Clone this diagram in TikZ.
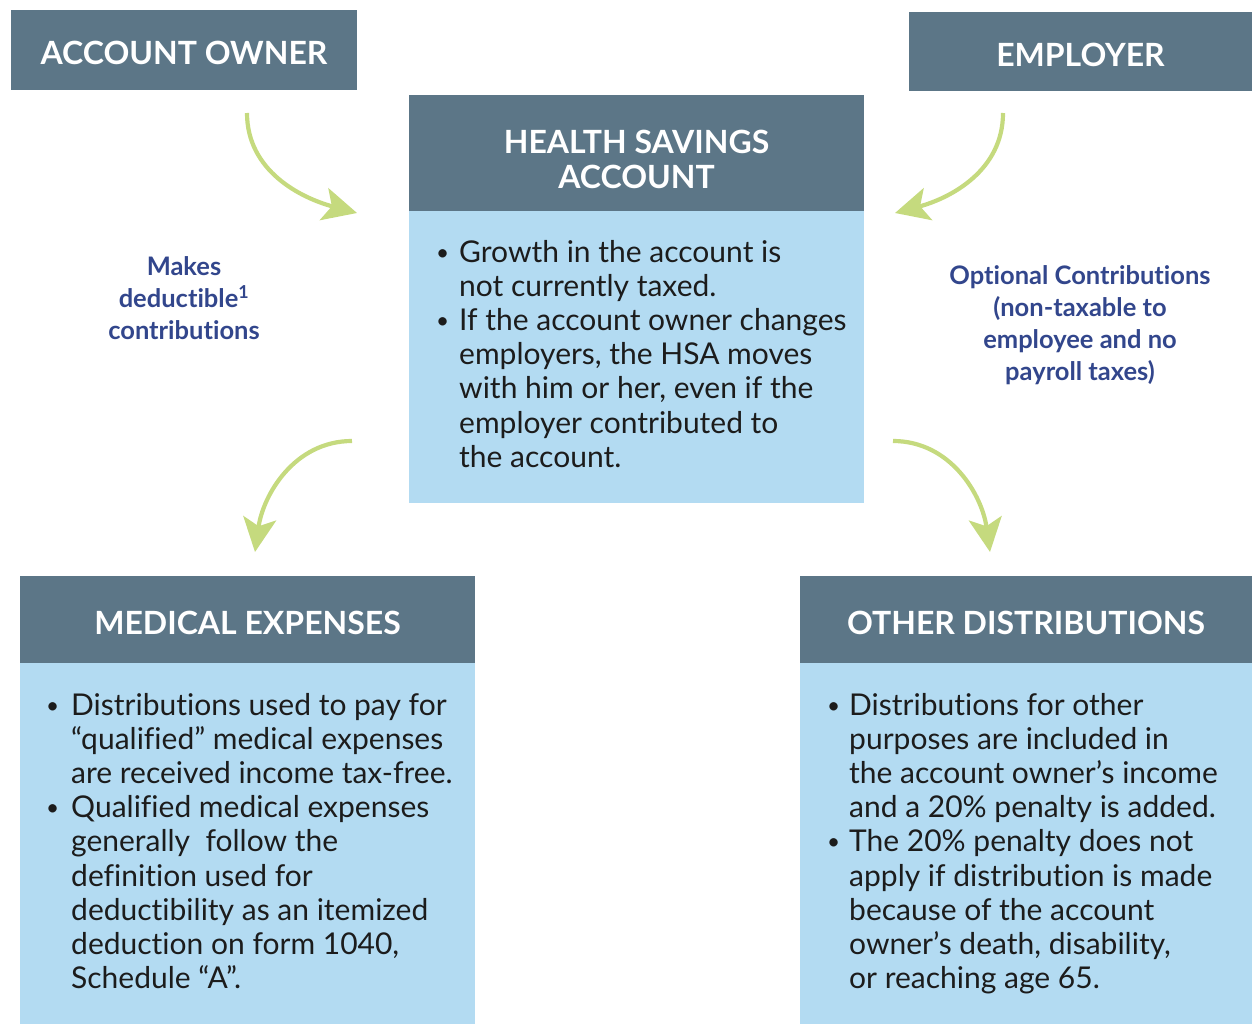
\documentclass[tikz,border=0pt]{standalone}
\usepackage{fontspec}
\setmainfont{Lato}[Ligatures={TeX,CommonOff}]
\usepackage{tikz}
\usetikzlibrary{arrows.meta, positioning}

\definecolor{slate}{RGB}{92,118,135}
\definecolor{skyfill}{RGB}{179,219,242}
\definecolor{leafgreen}{RGB}{197,218,126}
\definecolor{navytext}{RGB}{50,70,140}
\definecolor{inktext}{RGB}{28,28,28}

% small bullet with a fixed hanging width
\newcommand{\bitem}[1]{\makebox[#1][l]{\raisebox{2pt}{\scalebox{0.75}{\textbullet}}}}
% lower a title line without changing its box
\newcommand{\dropcap}[2][3pt]{\raisebox{-#1}[\height][\depth]{#2}}

\begin{document}
\begin{tikzpicture}[
    x=1pt, y=1pt,
    % Dark title bars
    titlebar/.style={draw=none, fill=slate, text=white, inner sep=0pt,
                     font=\fontsize{32}{35}\selectfont\bfseries, align=center},
    % Light blue text panels
    panel/.style={draw=none, fill=skyfill, inner sep=0pt},
    bodytext/.style={inner sep=0pt, anchor=base west, text=inktext,
                     font=\fontsize{30}{34.2}\selectfont},
    sidenote/.style={inner sep=0pt, text=navytext, align=center,
                     font=\fontsize{25.5}{32}\selectfont\bfseries},
    % Green curved arrow
    flow/.style={leafgreen, line width=4.2pt,
                 -{Stealth[length=34pt, width=33pt, inset=8pt]}}
]
\useasboundingbox (0,0) rectangle (1252,-1024);

% === TOP ROW ===
\node [titlebar, minimum width=346, minimum height=80] (owner) at (184,-50) {\dropcap{ACCOUNT OWNER}};
\node [titlebar, minimum width=343, minimum height=79] (employer) at (1080.5,-51.5) {\dropcap{EMPLOYER}};

% Health savings account in the middle
\node [titlebar, minimum width=455, minimum height=116] (hsahead) at (636.5,-153)
    {\dropcap[6pt]{HEALTH SAVINGS}\\\dropcap[6pt]{ACCOUNT}};
\node [panel, minimum width=455, minimum height=292, below=0pt of hsahead] (hsabody) {};
\node [bodytext] (hsatext) at (436,-262) {\begin{tabular}[t]{@{}l@{}l@{}}
\bitem{23pt} & Growth in the account is\\
 & not currently taxed.\\
\bitem{23pt} & If the account owner changes\\
 & employers, the HSA moves\\
 & with him or her, even if the\\
 & employer contributed to\\
 & the account.
\end{tabular}};

% Side notes
\node [sidenote] (ownernote) at (184,-298) {Makes\\deductible\textsuperscript{1}\\contributions};
\node [sidenote] (employernote) at (1080,-325) {Optional Contributions\\(non-taxable to\\employee and no\\payroll taxes)};

% === BOTTOM ROW ===
\node [titlebar, minimum width=455, minimum height=87] (medhead) at (247.5,-619.5) {\dropcap{MEDICAL EXPENSES}};
\node [panel, minimum width=455, minimum height=361, below=0pt of medhead] (medbody) {};
\node [bodytext] (medtext) at (46,-715) {\begin{tabular}[t]{@{}l@{}l@{}}
\bitem{25pt} & Distributions used to pay for\\
 & ``qualified'' medical expenses\\
 & are received income tax-free.\\
\bitem{25pt} & Qualified medical expenses\\
 & generally\ \ follow the\\
 & definition used for\\
 & deductibility as an itemized\\
 & deduction on form 1040,\\
 & Schedule ``A''.
\end{tabular}};

\node [titlebar, minimum width=452, minimum height=87] (otherhead) at (1026,-619.5) {\dropcap{OTHER DISTRIBUTIONS}};
\node [panel, minimum width=452, minimum height=361, below=0pt of otherhead] (otherbody) {};
\node [bodytext] (othertext) at (827,-715) {\begin{tabular}[t]{@{}l@{}l@{}}
\bitem{22pt} & Distributions for other\\
 & purposes are included in\\
 & the account owner’s income\\
 & and a 20\% penalty is added.\\
\bitem{22pt} & The 20\% penalty does not\\
 & apply if distribution is made\\
 & because of the account\\
 & owner’s death, disability,\\
 & or reaching age 65.
\end{tabular}};

% === ARROWS ===
\coordinate (ownerout) at (247,-113);
\coordinate (hsainleft) at (357,-213);
\coordinate (employerout) at (1003,-113);
\coordinate (hsainright) at (895,-213);
\coordinate (hsaoutleft) at (352,-441);
\coordinate (medin) at (255,-552);
\coordinate (hsaoutright) at (893,-441);
\coordinate (otherin) at (990,-552);

\draw [flow] (ownerout) to[out=-90, in=165] (hsainleft);
\draw [flow] (employerout) to[out=-90, in=15] (hsainright);
\draw [flow] (hsaoutleft) to[out=180, in=82] (medin);
\draw [flow] (hsaoutright) to[out=0, in=98] (otherin);

\end{tikzpicture}
\end{document}
